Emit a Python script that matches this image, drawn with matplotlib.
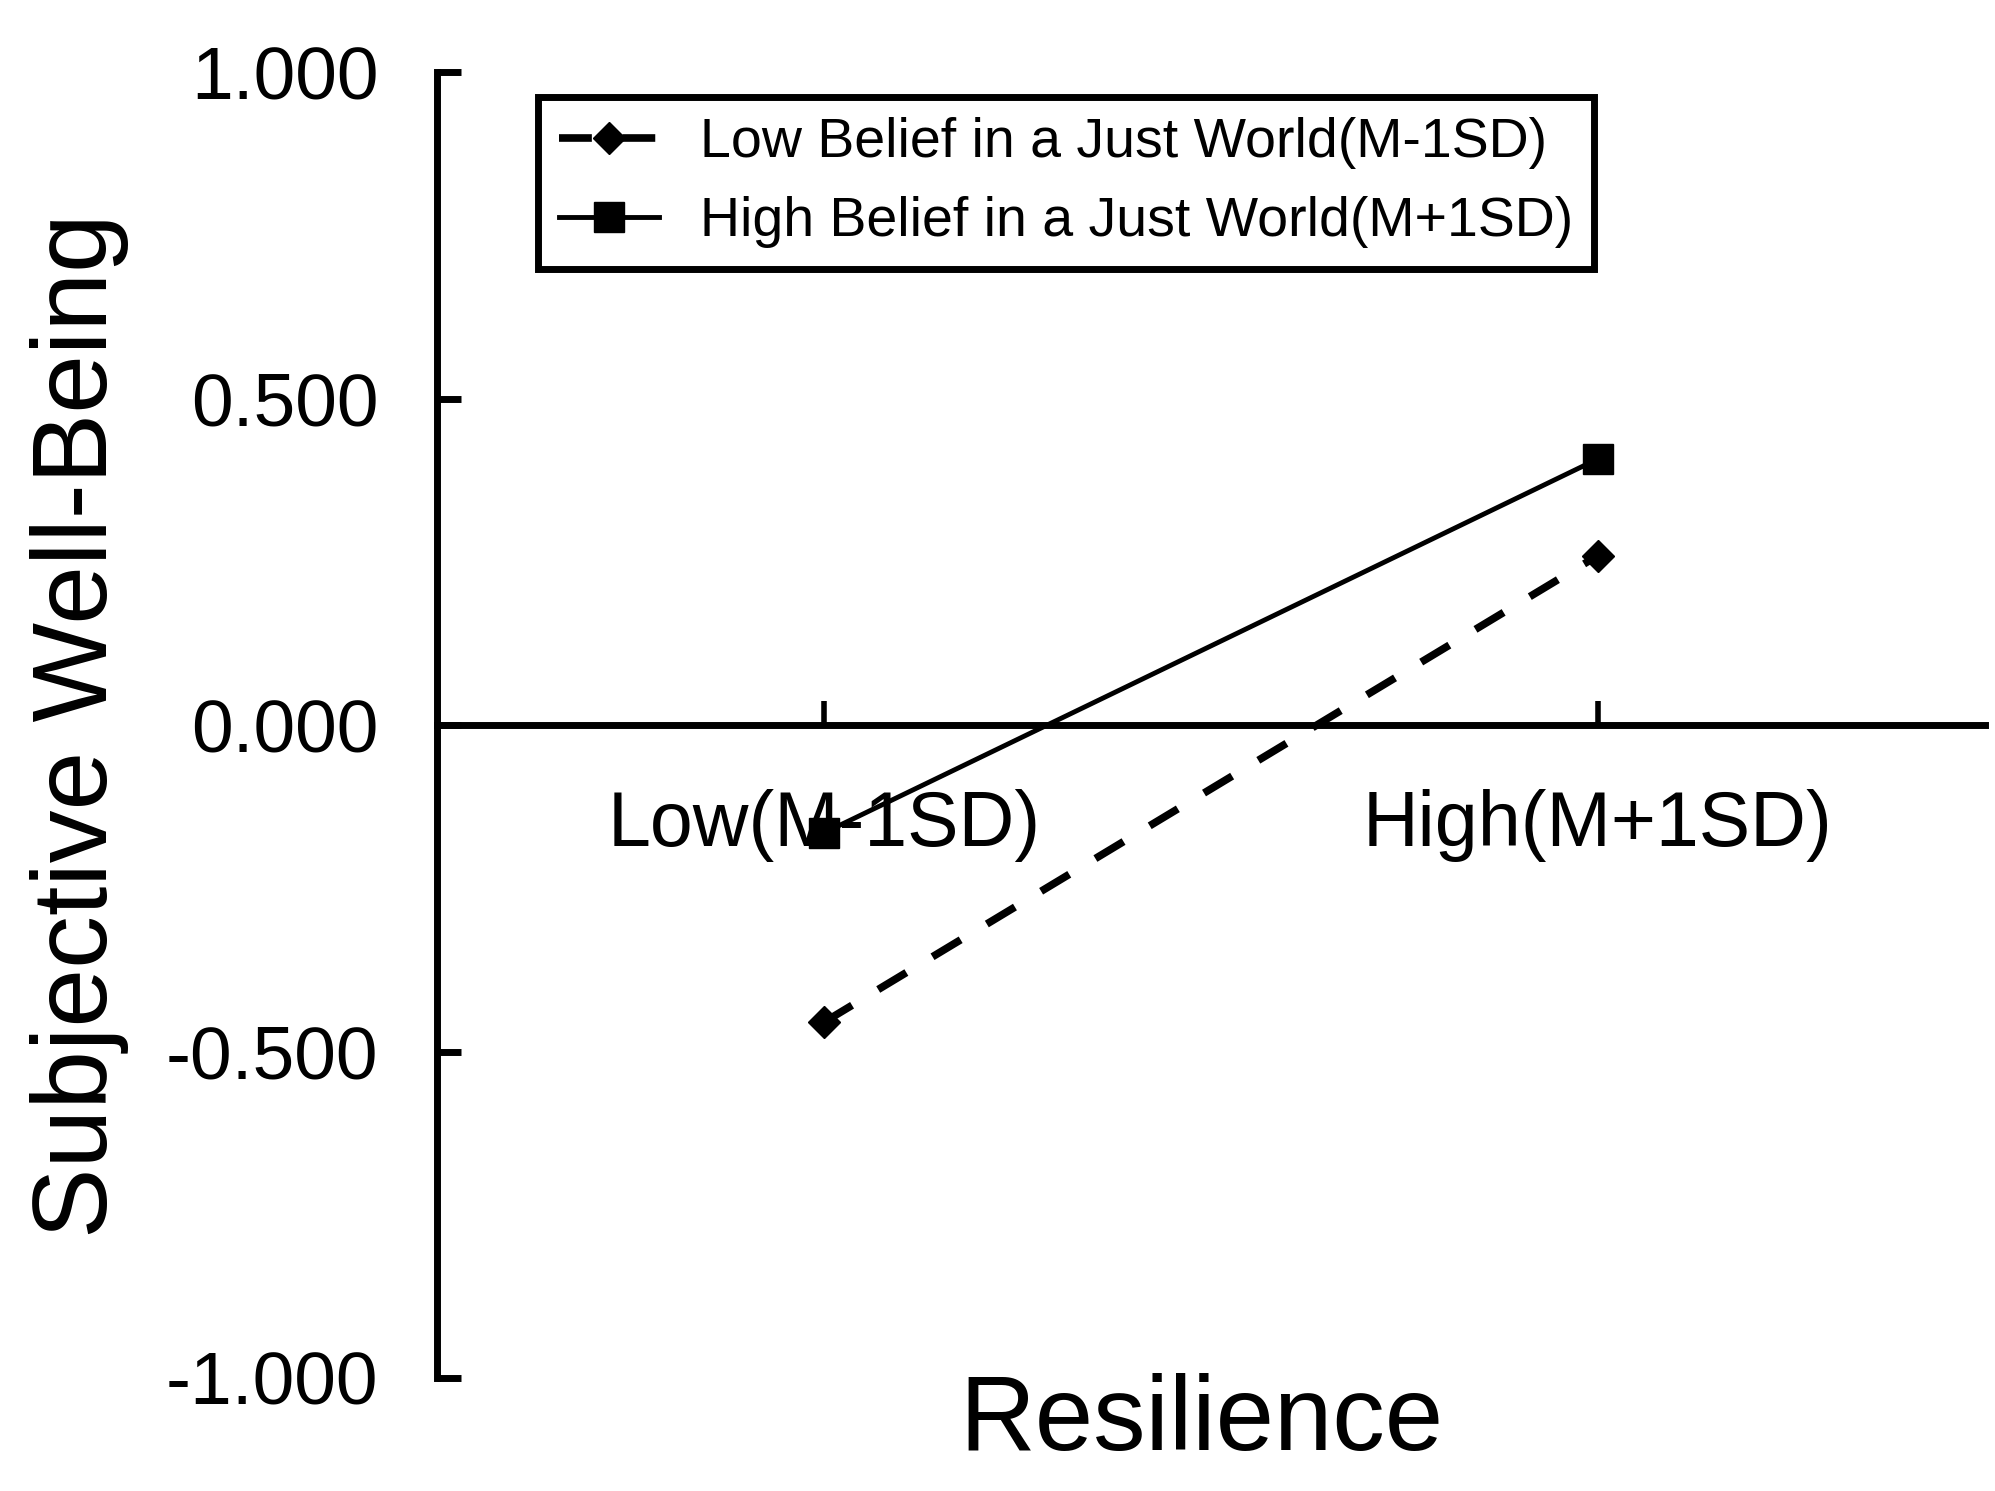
import matplotlib
matplotlib.use("Agg")
import matplotlib.pyplot as plt

plt.rcParams['font.family'] = ['Liberation Sans', 'DejaVu Sans']
plt.rcParams['axes.unicode_minus'] = False

# Data
categories = ["Low(M-1SD)", "High(M+1SD)"]
series_names = ["Low Belief in a Just World(M-1SD)", "High Belief in a Just World(M+1SD)"]
low_bjw = [-0.455, 0.260]
high_bjw = [-0.165, 0.408]
y_ticks = [-1.0, -0.5, 0.0, 0.5, 1.0]
x_title = "Resilience"
y_title = "Subjective Well-Being"

fig = plt.figure(figsize=(19.95, 14.91), dpi=100)
ax = fig.add_axes([0.219, 0.0758, 0.995 - 0.219, 0.9514 - 0.0758])

x = list(range(len(categories)))
ax.plot(x, low_bjw, color='black', lw=5.5, linestyle=(0, (4.3, 4.0)),
        marker='D', ms=16, label=series_names[0], clip_on=False)
ax.plot(x, high_bjw, color='black', lw=3.5, linestyle='-',
        marker='s', ms=22, label=series_names[1], clip_on=False)

ax.set_xlim(-0.5, 1.5)
ax.set_ylim(-1, 1)

for s in ['top', 'right']:
    ax.spines[s].set_visible(False)
ax.spines['bottom'].set_position(('data', 0))
ax.spines['left'].set_linewidth(5)
ax.spines['bottom'].set_linewidth(5)

ax.set_yticks(y_ticks)
ax.set_yticklabels([f"{v:.3f}" for v in y_ticks])
ax.set_xticks(x)
ax.set_xticklabels(categories)

ax.tick_params(axis='y', direction='in', length=17, width=5, labelsize=54, pad=42)
ax.tick_params(axis='x', direction='in', length=17, width=4, labelsize=55.5, pad=46)

ax.set_ylabel(y_title, fontsize=76)
ax.yaxis.label.set_va('center')
ax.yaxis.set_label_coords(-0.231, 0.5)

ax.set_xlabel(x_title, fontsize=75.5)
ax.xaxis.label.set_va('center')
ax.xaxis.set_label_coords(0.494, -0.034)

leg = ax.legend(loc='upper left', bbox_to_anchor=(0.2697, 0.935),
                bbox_transform=fig.transFigure, borderaxespad=0,
                fontsize=40, frameon=True, fancybox=False, framealpha=1,
                edgecolor='black', handlelength=1.8, handletextpad=0.75,
                labelspacing=0.48, borderpad=0.37)
leg.get_frame().set_linewidth(5)

fig.savefig("out.png", dpi=100, facecolor='white')
